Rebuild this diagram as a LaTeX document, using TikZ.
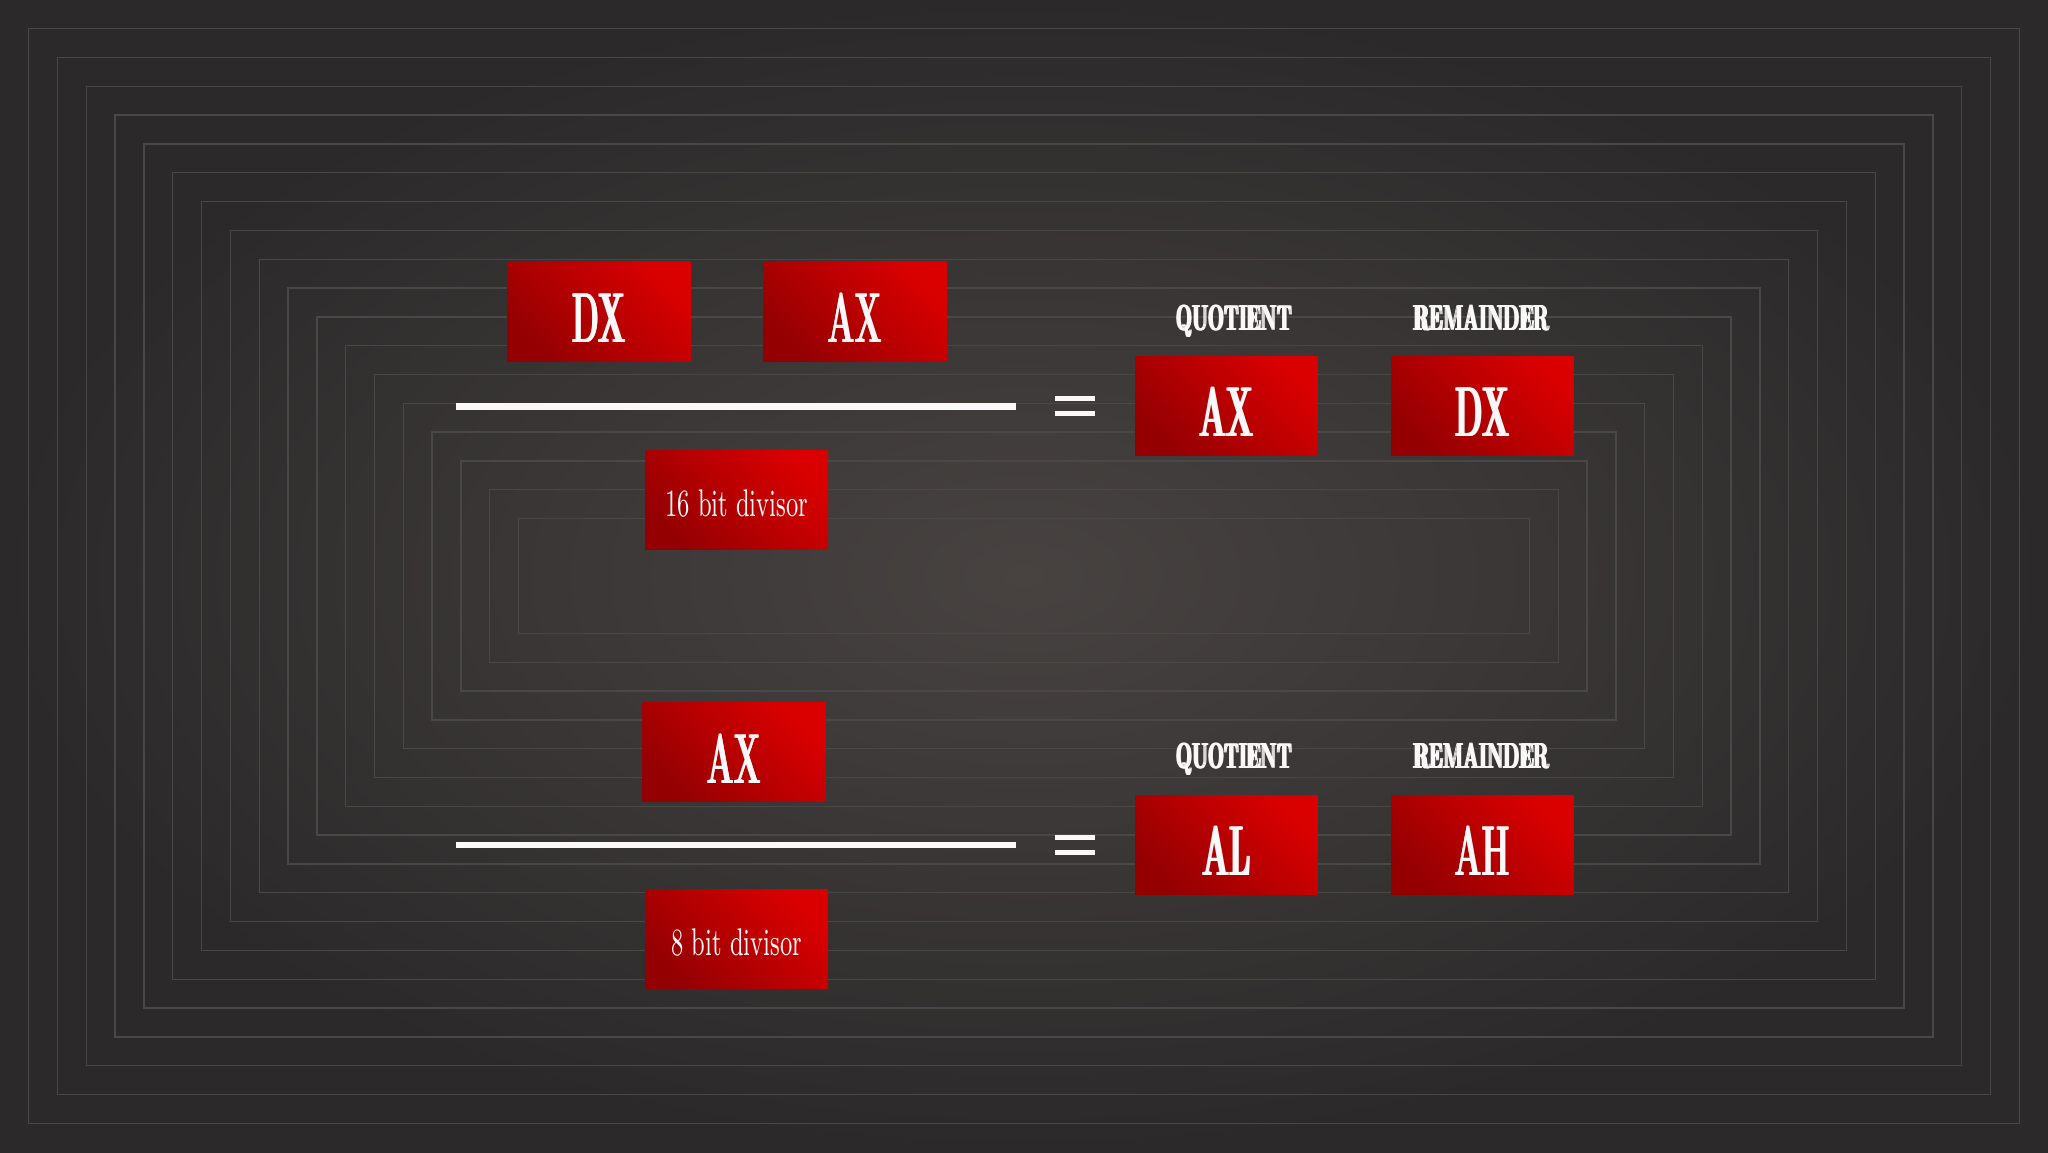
\documentclass[tikz,border=0pt]{standalone}
\usepackage{graphicx}

\definecolor{bgout}{RGB}{43,41,42}
\definecolor{bgin}{RGB}{72,67,65}
\definecolor{frameline}{RGB}{74,71,71}
\definecolor{boxdark}{RGB}{148,0,2}
\definecolor{boxlight}{RGB}{218,0,0}
\definecolor{offwhite}{RGB}{250,248,248}

% squeeze text sideways
\newcommand{\cond}[2]{\scalebox{#1}[1]{#2}}
% thicken strokes by stacking copies
\newcommand{\heavy}[2]{\rlap{#2}\kern#1\rlap{#2}\kern#1#2}

\tikzset{
  regbox/.style={top color=boxlight, bottom color=boxdark, shading angle=-45,
    minimum width=1.4cm, minimum height=0.76cm, inner sep=0pt, text=offwhite},
  regname/.style={regbox, font=\fontsize{15.4}{18}\selectfont\bfseries,
    text height=13.4pt, text depth=0pt},
  divbox/.style={regbox, font=\fontsize{8.4}{10}\selectfont,
    text height=7.2pt, text depth=0pt},
  head/.style={anchor=base, text=offwhite, font=\fontsize{7.9}{9}\selectfont\bfseries},
  barline/.style={offwhite, line width=1.45pt},
  eqbar/.style={offwhite, line width=1.15pt}
}

\newcommand{\reg}[1]{\cond{0.45}{\heavy{0.4pt}{#1}}}
\newcommand{\hd}[1]{\cond{0.475}{\heavy{0.5pt}{#1}}}

\begin{document}
\begin{tikzpicture}

\useasboundingbox (0,0) rectangle (15.68,8.82);
\shade[inner color=bgin, outer color=bgout] (0,0) rectangle (15.68,8.82);

\foreach \i in {0,...,17}
  \draw[frameline, line width=0.3pt] ({0.22+\i*0.2206},{0.22+\i*0.2206})
    rectangle ({15.46-\i*0.2206},{8.60-\i*0.2206});

% DX:AX divided by a 16 bit register
\node[regname] (dxhi) at (4.585,6.435) {\reg{DX}};
\node[regname] (axlo) at (6.545,6.435) {\reg{AX}};
\coordinate (barA1) at (3.49,5.71);
\coordinate (barA2) at (7.78,5.71);
\draw[barline] (barA1)--(barA2);
\node[divbox] (div16) at (5.64,4.99) {\cond{0.6}{16 bit divisor}};

\coordinate (eqA) at (8.23,5.71);
\draw[eqbar] ([shift={(-0.15,0.0575)}]eqA)--([shift={(0.15,0.0575)}]eqA);
\draw[eqbar] ([shift={(-0.15,-0.0575)}]eqA)--([shift={(0.15,-0.0575)}]eqA);

\node[head] (quotA) at (9.45,6.293) {\hd{QUOTIENT}};
\node[head] (remA) at (11.345,6.293) {\hd{REMAINDER}};
\node[regname] (axq) at (9.39,5.71) {\reg{AX}};
\node[regname] (dxr) at (11.35,5.71) {\reg{DX}};

% AX divided by an 8 bit register
\node[regname] (axdiv) at (5.62,3.06) {\reg{AX}};
\coordinate (barB1) at (3.49,2.35);
\coordinate (barB2) at (7.78,2.35);
\draw[barline] (barB1)--(barB2);
\node[divbox] (div8) at (5.64,1.63) {\cond{0.6}{8 bit divisor}};

\coordinate (eqB) at (8.23,2.35);
\draw[eqbar] ([shift={(-0.15,0.0575)}]eqB)--([shift={(0.15,0.0575)}]eqB);
\draw[eqbar] ([shift={(-0.15,-0.0575)}]eqB)--([shift={(0.15,-0.0575)}]eqB);

\node[head] (quotB) at (9.45,2.933) {\hd{QUOTIENT}};
\node[head] (remB) at (11.345,2.933) {\hd{REMAINDER}};
\node[regname] (alq) at (9.39,2.35) {\reg{AL}};
\node[regname] (ahr) at (11.35,2.35) {\reg{AH}};

\end{tikzpicture}
\end{document}
